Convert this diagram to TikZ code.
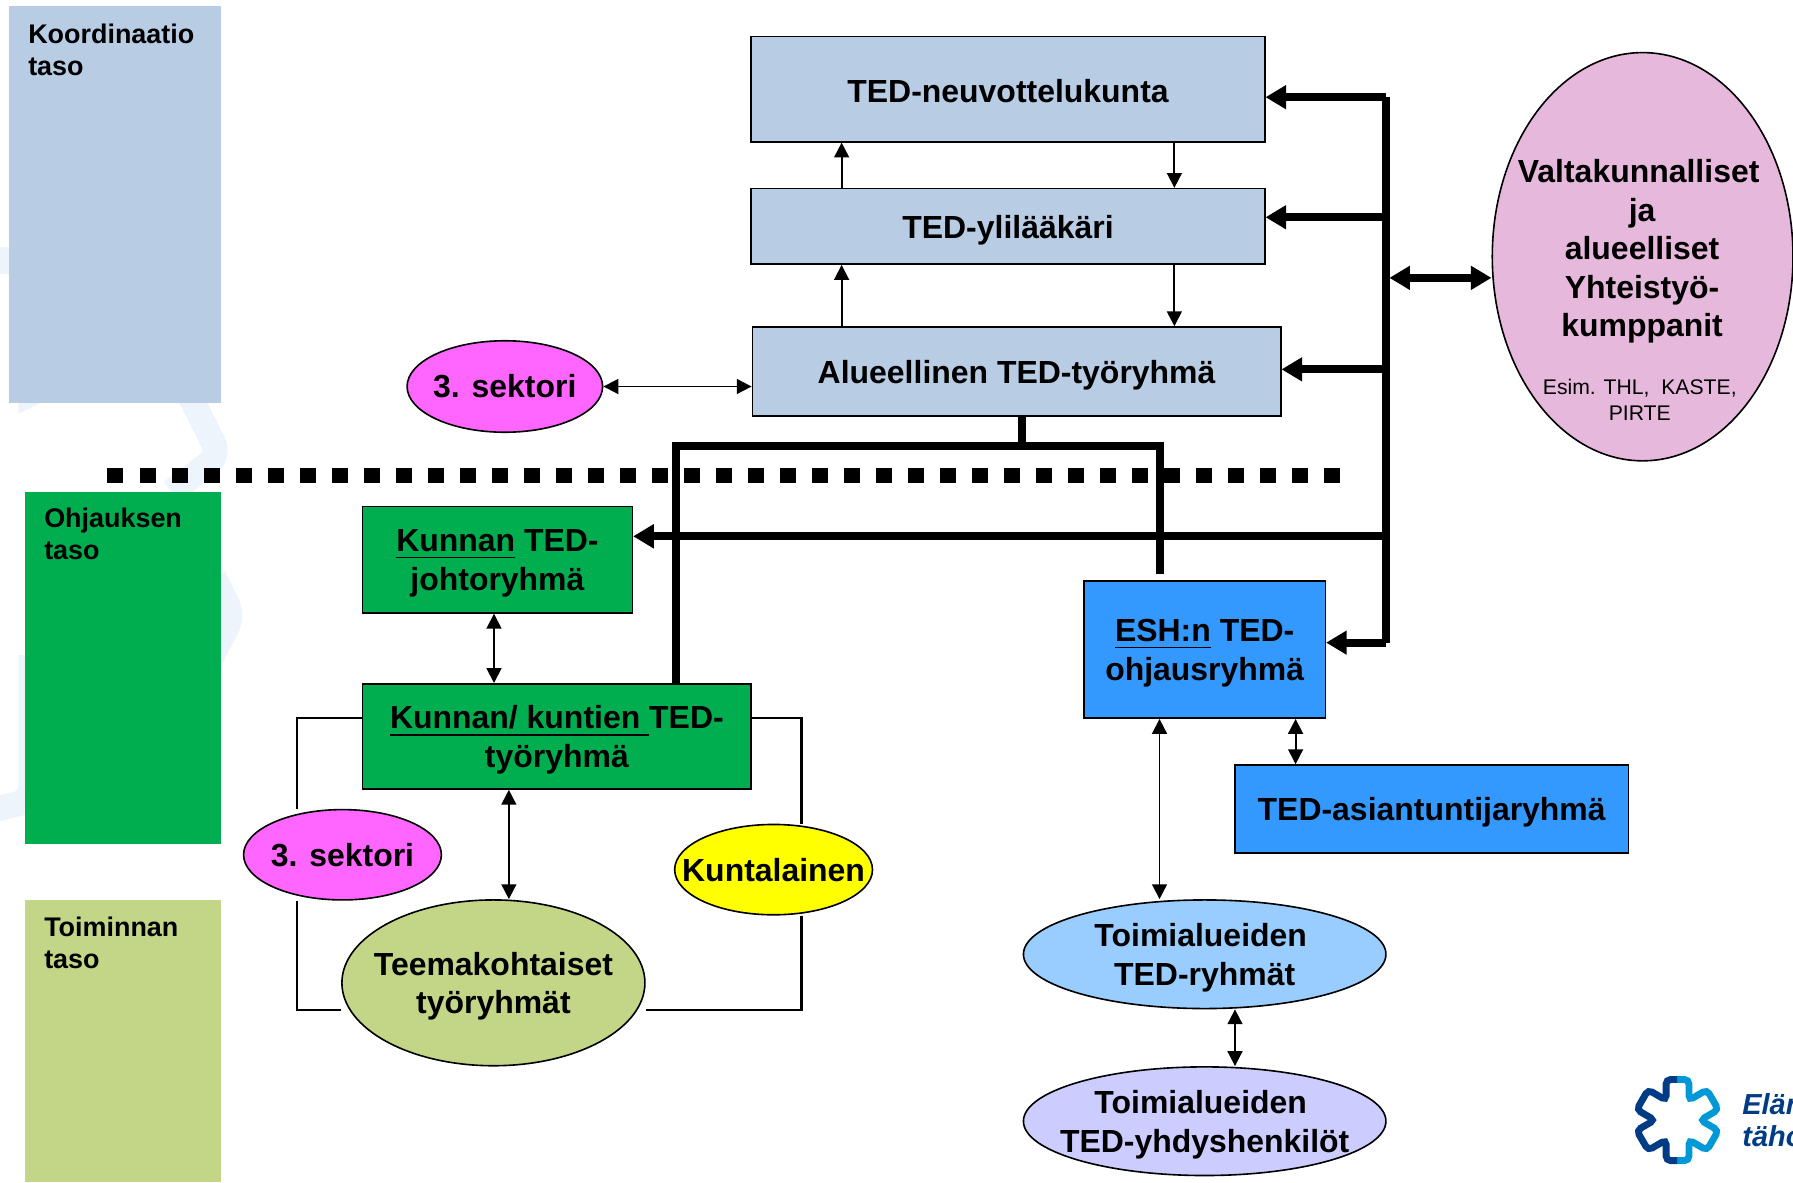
\documentclass[tikz,border=0pt]{standalone}
\usepackage{fontspec}
\setmainfont{Liberation Sans}
\usetikzlibrary{arrows.meta,shapes.geometric}
\definecolor{paleblue}{HTML}{B8CCE4}
\definecolor{midgreen}{HTML}{00AE50}
\definecolor{olive}{HTML}{C3D587}
\definecolor{pink}{HTML}{FF66FF}
\definecolor{brightyellow}{HTML}{FFFF00}
\definecolor{brightblue}{HTML}{3399FF}
\definecolor{skyblue}{HTML}{99CCFF}
\definecolor{lilac}{HTML}{CCCCFF}
\definecolor{mauve}{HTML}{E6B8DC}
\definecolor{logodark}{HTML}{003C85}
\definecolor{logolight}{HTML}{0098D6}
\definecolor{wmark}{HTML}{EDF4FB}
\tikzset{
  lowered/.style={execute at begin node={\rule{0pt}{7.5pt}}},
  plain/.style={draw,line width=0.4pt,inner sep=0pt,align=center,font=\bfseries\fontsize{7.95}{9.6}\selectfont},
  box/.style={plain,lowered},
  oval/.style={plain,ellipse,inner xsep=-0.25cm,inner ysep=-0.1cm},
  boxtxt/.style={inner sep=0pt,align=center,font=\bfseries\fontsize{7.95}{9.6}\selectfont},
  level/.style={inner sep=0pt,minimum width=1.85cm},
  leveltxt/.style={anchor=north west,inner sep=0pt,align=left,font=\bfseries\fontsize{6.7}{7.97}\selectfont},
  thin arrow/.style={line width=0.45pt,{Triangle[length=0.13cm,width=0.13cm]}-{Triangle[length=0.13cm,width=0.13cm]}},
  one arrow/.style={line width=0.45pt,-{Triangle[length=0.13cm,width=0.13cm]}},
  thick arrow/.style={line width=0.07cm,-{Triangle[length=0.18cm,width=0.2cm]}},
  thick both/.style={line width=0.07cm,{Triangle[length=0.18cm,width=0.2cm]}-{Triangle[length=0.18cm,width=0.2cm]}},
  thick line/.style={line width=0.07cm},
  frame line/.style={line width=0.55pt},
  wmline/.style={wmark,line width=0.22cm,rounded corners=0.12cm}
}
\begin{document}
\begin{tikzpicture}
  \useasboundingbox (0,0) rectangle (15.68,-10.34);
  \clip (0,0) rectangle (15.68,-10.34);
  % watermark
  \draw[wmline] (1.63,-3.4) -- (1.92,-3.98) -- (1.5,-4.3);
  \draw[wmline] (1.87,-5.05) -- (2.04,-5.38) -- (1.82,-5.8);
  \draw[wmline] (0.27,-5.73) -- (0.27,-7.0) -- (-0.2,-7.12);
  \fill[wmark] (0.16,-3.52) -- (0.36,-3.52) -- (0.16,-3.62) -- cycle;
  \fill[wmark] (0,-2.16) -- (0.08,-2.16) -- (0.08,-2.40) -- (0,-2.40) -- cycle;
  % levels
  \node[level,fill=paleblue,minimum height=3.47cm] (koord) at (1.005,-1.785) {};
  \node[level,fill=midgreen,minimum width=1.71cm,minimum height=3.08cm] (ohjaus) at (1.075,-5.84) {};
  \node[level,fill=olive,minimum width=1.71cm,minimum height=2.47cm] (toiminta) at (1.075,-9.105) {};
  \node[leveltxt] (koordtxt) at (0.24,-0.20) {Koordinaatio\\taso};
  \node[leveltxt] (ohjaustxt) at (0.38,-4.435) {Ohjauksen\\taso};
  \node[leveltxt] (toimintatxt) at (0.38,-8.01) {Toiminnan\\taso};
  % separator
  \draw[line width=0.13cm,dash pattern=on 0.14cm off 0.14cm] (0.94,-4.16) -- (11.72,-4.16);
  % boxes
  \node[plain,fill=paleblue,minimum width=4.49cm,minimum height=0.92cm] (neuvo) at (8.815,-0.78) {\rule{0pt}{6.6pt}TED-neuvottelukunta};
  \node[box,fill=paleblue,minimum width=4.49cm,minimum height=0.66cm] (yli) at (8.815,-1.98) {TED-ylilääkäri};
  \node[box,fill=paleblue,minimum width=4.62cm,minimum height=0.78cm] (alue) at (8.89,-3.25) {Alueellinen TED-työryhmä};
  \node[plain,fill=midgreen,minimum width=2.36cm,minimum height=0.93cm] (johto) at (4.35,-4.895) {};
  \node[boxtxt] (johtotxt) at ([yshift=-0.03cm]johto) {\underline{Kunnan} TED-\\johtoryhmä};
  \node[plain,fill=midgreen,minimum width=3.40cm,minimum height=0.92cm] (kunnat) at (4.87,-6.44) {};
  \node[boxtxt] (kunnattxt) at ([yshift=-0.03cm]kunnat) {\underline{Kunnan/ kuntien }TED-\\työryhmä};
  \node[plain,fill=brightblue,minimum width=2.11cm,minimum height=1.20cm] (esh) at (10.535,-5.68) {};
  \node[boxtxt] (eshtxt) at ([yshift=-0.03cm]esh) {\underline{ESH:n} TED-\\ohjausryhmä};
  \node[box,fill=brightblue,minimum width=3.44cm,minimum height=0.77cm] (asiant) at (12.52,-7.075) {TED-asiantuntijaryhmä};
  % ovals
  \node[oval,fill=pink,minimum width=1.71cm,minimum height=0.80cm] (sektoria) at (4.415,-3.38) {3. sektori};
  \node[oval,fill=pink,minimum width=1.73cm,minimum height=0.79cm] (sektorib) at (2.995,-7.475) {3. sektori};
  \node[oval,fill=brightyellow,minimum width=1.73cm,minimum height=0.79cm] (kuntal) at (6.765,-7.605) {Kuntalainen};
  \node[oval,fill=olive,minimum width=2.65cm,minimum height=1.45cm] (teema) at (4.315,-8.595) {};
  \node[boxtxt] (teematxt) at ([yshift=-0.03cm]teema) {Teemakohtaiset\\työryhmät};
  \node[oval,fill=skyblue,minimum width=3.17cm,minimum height=0.95cm] (toimi) at (10.535,-8.345) {};
  \node[boxtxt] (toimitxt) at ([yshift=-0.03cm]toimi) {Toimialueiden\kern0.07cm\\TED-ryhmät};
  \node[oval,fill=lilac,minimum width=3.17cm,minimum height=0.95cm] (yhdys) at (10.535,-9.805) {};
  \node[boxtxt] (yhdystxt) at ([yshift=-0.03cm]yhdys) {Toimialueiden\kern0.07cm\\TED-yhdyshenkilöt};
  \node[oval,fill=mauve,minimum width=2.63cm,minimum height=3.57cm] (valta) at (14.365,-2.245) {};
  \node[boxtxt] (valtatxt) at (14.36,-2.20) {Valtakunnalliset\kern0.06cm\\ja\\alueelliset\\Yhteistyö-\\kumppanit};
  \node[inner sep=0pt,align=center,font=\fontsize{5.27}{6.5}\selectfont] (esim) at (14.34,-3.5) {Esim. THL,~~KASTE,\\PIRTE};
  % thin arrows
  \draw[one arrow] (yli.north -| 7.36,0) -- (neuvo.south -| 7.36,0);
  \draw[one arrow] (neuvo.south -| 10.27,0) -- (yli.north -| 10.27,0);
  \draw[one arrow] (alue.north -| 7.36,0) -- (yli.south -| 7.36,0);
  \draw[one arrow] (yli.south -| 10.27,0) -- (alue.north -| 10.27,0);
  \draw[thin arrow] (sektoria.east |- 0,-3.38) -- (alue.west |- 0,-3.38);
  \draw[thin arrow] (johto.south -| 4.32,0) -- (kunnat.north -| 4.32,0);
  \draw[thin arrow] (kunnat.south -| 4.45,0) -- (teema.north -| 4.45,0);
  \draw[thin arrow] (esh.south -| 10.14,0) -- (toimi.north -| 10.14,0);
  \draw[thin arrow] (esh.south -| 11.33,0) -- (asiant.north -| 11.33,0);
  \draw[thin arrow] (toimi.south -| 10.80,0) -- (yhdys.north -| 10.80,0);
  % thick arrows
  \coordinate (bustop) at (12.12,-0.85);
  \coordinate (busbot) at (12.12,-5.62);
  \draw[thick line] (bustop) -- (busbot);
  \draw[thick arrow] (bustop) -- (neuvo.east |- bustop);
  \draw[thick arrow] (12.12,-1.90) -- (yli.east |- 0,-1.90);
  \draw[thick arrow] (12.12,-3.23) -- (alue.east |- 0,-3.23);
  \draw[thick arrow] (12.12,-4.69) -- (johto.east |- 0,-4.69);
  \draw[thick arrow] (busbot) -- (esh.east |- busbot);
  \draw[thick both] (12.15,-2.43) -- (valta.west |- 0,-2.43);
  \draw[thick line] (alue.south -| 8.94,0) -- (8.94,-3.90);
  \draw[thick line] (kunnat.north -| 5.91,0) -- (5.91,-3.90) -- (10.14,-3.90) -- (10.14,-5.02);
  % frame lines
  \draw[frame line] (kunnat.west |- 0,-6.28) -- (2.60,-6.28) -- (sektorib.north -| 2.60,0);
  \draw[frame line] (sektorib.south -| 2.60,0) -- (2.60,-8.83) -- (teema.west |- 0,-8.83);
  \draw[frame line] (kunnat.east |- 0,-6.28) -- (7.01,-6.28) -- (kuntal.north -| 7.01,0);
  \draw[frame line] (kuntal.south -| 7.01,0) -- (7.01,-8.83) -- (teema.east |- 0,-8.83);
  % logo
  \begin{scope}[shift={(14.67,-9.795)},line width=0.06cm,rounded corners=0.04cm]
    \draw[logolight] (0,0.355) -- (0.10,0.355) -- (0.10,0.173) -- (0.257,0.265) -- (0.357,0.091) -- (0.20,0) -- (0.357,-0.091) -- (0.257,-0.265) -- (0.10,-0.173) -- (0.10,-0.355) -- (0,-0.355);
    \draw[logodark] (0,0.355) -- (-0.10,0.355) -- (-0.10,0.173) -- (-0.257,0.265) -- (-0.357,0.091) -- (-0.20,0) -- (-0.357,-0.091) -- (-0.257,-0.265) -- (-0.10,-0.173) -- (-0.10,-0.355) -- (0,-0.355);
  \end{scope}
  \node[anchor=north west,inner sep=0pt,align=left,text=logodark,font=\itshape\bfseries\fontsize{7.2}{7.9}\selectfont] (logotxt) at (15.23,-9.56) {Elän\\täho};
\end{tikzpicture}
\end{document}
